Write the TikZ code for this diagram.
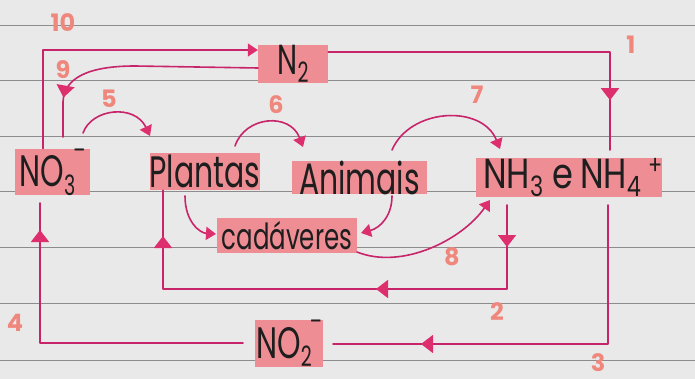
\documentclass[tikz,border=0pt]{standalone}
\usepackage{fontspec}
\setmainfont{Poppins}
\newfontfamily\hand{Poppins}[FakeStretch=0.68]
\newfontfamily\handw{Poppins}[FakeStretch=0.8]
\usetikzlibrary{arrows.meta,decorations.markings}
\definecolor{paper}{HTML}{E9E9EA}
\definecolor{rulec}{HTML}{8C8C8E}
\definecolor{hl}{HTML}{EE8E94}
\definecolor{ink}{HTML}{C8246A}
\definecolor{tipc}{HTML}{DD2E6E}
\definecolor{num}{HTML}{F0877D}
\definecolor{txt}{HTML}{1E1E1E}
% subscript and charge
\newcommand\subsc[1]{\raisebox{-0.2em}{\fontsize{28}{28}\selectfont #1}}
\newcommand\ionsc[4]{\subsc{#1}\kern#4\raisebox{#3}{\fontsize{26}{26}\selectfont #2}}
\begin{document}
\begin{tikzpicture}[x=1pt,y=-1pt,
  box/.style={fill=hl, inner sep=0pt, text=txt, font=\hand\fontsize{#1}{#1}\selectfont},
  conn/.style={draw=ink, line width=1.6pt, line cap=round, line join=round},
  >={Triangle[length=10pt,width=13pt,fill=tipc,color=tipc]},
  mid/.tip={Triangle[length=12pt,width=18pt,fill=tipc,color=tipc]},
  marks/.style={postaction={decorate}, decoration={markings, #1}},
  num/.style={text=num, font=\bfseries\fontsize{24}{24}\selectfont, inner sep=0pt},
  ruleline/.style={draw=rulec, line width=0.9pt}]
% paper
\fill[paper] (0,0) rectangle (695,379);
\useasboundingbox (0,0) rectangle (695,379);
\foreach \yy in {25,80,136,191,247,303,360}
  \draw[ruleline] (0,\yy) -- (695,\yy);
% nodes
\node[box=44, minimum width=75pt, minimum height=38pt] (NO3) at (52.5,172) {NO\ionsc{3}{–}{0.62em}{-2pt}};
\node[box=44, minimum width=110pt, minimum height=37pt] (Plantas) at (205,171.5) {Plantas};
\node[box=44, minimum width=135pt, minimum height=31pt] (Animais) at (359.5,177.5) {Animais};
\node[box=44, font=\handw\fontsize{42}{42}\selectfont, minimum width=182pt, minimum height=35pt, anchor=west] (NH) at (476,177.5) {\,NH\subsc{3} e\,NH\ionsc{4}{+}{0.32em}{7pt}};
\node[box=42, minimum width=70pt, minimum height=32pt] (N2) at (293,64) {N\subsc{2}};
\node[box=36, minimum width=140pt, minimum height=35pt] (cad) at (287,235.5) {cadáveres};
\node[box=44, minimum width=68pt, minimum height=33pt] (NO2) at (289,343.5) {NO\ionsc{2}{–}{0.62em}{-2pt}};
% free ends
\coordinate (k10) at (43,50);
\coordinate (k1) at (610,52);
\coordinate (e1) at (610,150);
\coordinate (s2) at (507,205);
\coordinate (k2) at (163,289);
\coordinate (s3) at (608,205);
\coordinate (k3) at (608,344);
\coordinate (e3) at (333,344);
\coordinate (s4) at (243,343);
\coordinate (k4) at (40,343);
\coordinate (e4) at (40,203);
\coordinate (s9) at (258,68);
\coordinate (e9) at (63,137);
\coordinate (s5) at (83,133);
\coordinate (e5) at (150,136);
\coordinate (s6) at (235,146);
\coordinate (e6) at (303,147);
\coordinate (s7) at (392,150);
\coordinate (e7) at (500,149);
\coordinate (sp) at (185,196);
\coordinate (ep) at (216,234);
\coordinate (sa) at (392,196);
\coordinate (ea) at (361,233);
\coordinate (s8) at (357,252);
\coordinate (e8) at (490,200);
% connectors
\draw[conn,->] (NO3.north -| k10) -- (k10) -- (N2.west |- k10);
\draw[conn, marks={mark=at position 330pt with {\arrow{mid}}}] (N2.east |- k1) -- (k1) -- (e1);
\draw[conn, marks={mark=at position 42pt with {\arrow{mid}}, mark=at position 215pt with {\arrow{mid}}, mark=at position 481pt with {\arrow{mid}}}]
  (s2) -- (s2 |- k2) -- (k2) -- (Plantas.south -| k2);
\draw[conn, marks={mark=at position 326pt with {\arrow{mid}}}] (s3) -- (k3) -- (e3);
\draw[conn, marks={mark=at position 316pt with {\arrow{mid}}}] (s4) -- (k4) -- (e4);
\draw[conn, marks={mark=at position 0.84 with {\arrow{mid}}}]
  (s9) -- (135,66) .. controls (88,66) and (64,78) .. (63,102) -- (e9);
\draw[conn,->] (s5) .. controls (92,108) and (135,104) .. (e5);
\draw[conn,->] (s6) .. controls (245,116) and (290,112) .. (e6);
\draw[conn,->] (s7) .. controls (410,108) and (482,104) .. (e7);
\draw[conn,->] (sp) .. controls (185,222) and (200,233) .. (ep);
\draw[conn,->] (sa) .. controls (392,216) and (380,228) .. (ea);
\draw[conn,->] (s8) .. controls (402,270) and (462,240) .. (e8);
% step numbers
\node[num] (n10) at (63,23) {10};
\node[num] (n9) at (63,70) {9};
\node[num] (n5) at (109,99) {5};
\node[num] (n6) at (276,105) {6};
\node[num] (n7) at (477,95) {7};
\node[num] (n1) at (631,45) {1};
\node[num] (n8) at (452,257) {8};
\node[num] (n2) at (497,312) {2};
\node[num] (n3) at (598,363) {3};
\node[num] (n4) at (15,323) {4};
\end{tikzpicture}
\end{document}
